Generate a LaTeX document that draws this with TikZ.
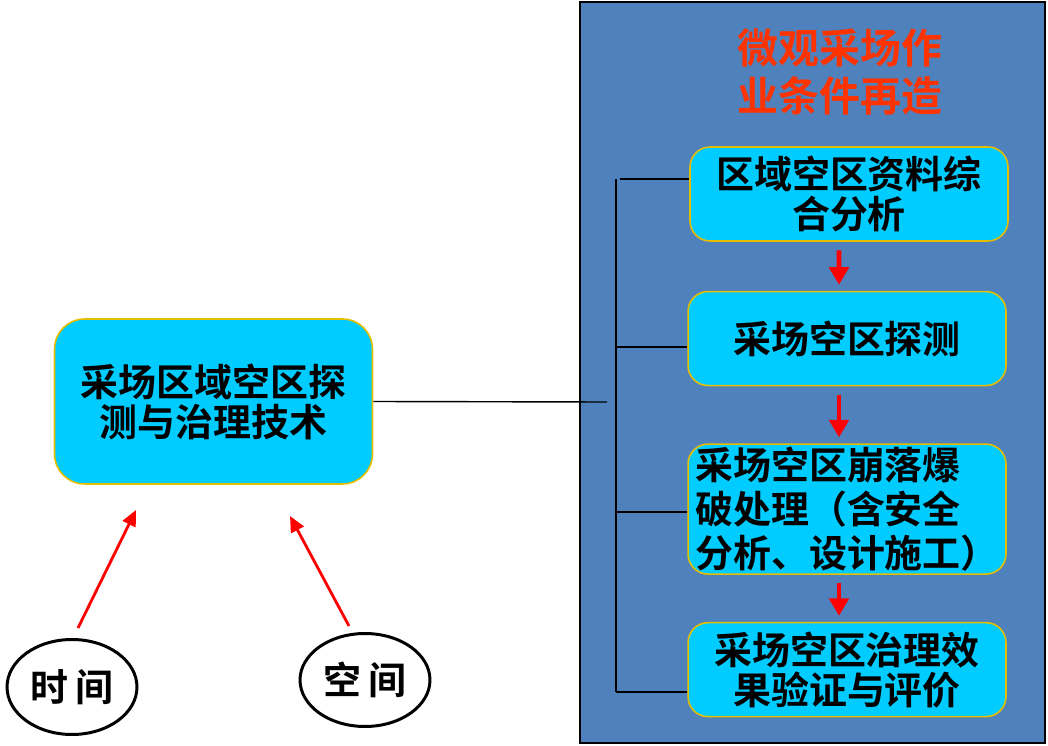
\documentclass[tikz,border=0pt]{standalone}
\usepackage{fontspec}
\newfontfamily\cjk{Noto Sans CJK SC}[BoldFont={Noto Sans CJK SC Bold}]
\usetikzlibrary{positioning,arrows.meta}
\definecolor{panelblue}{RGB}{79,129,189}
\definecolor{boxcyan}{RGB}{0,204,255}
\definecolor{boxgold}{RGB}{230,190,0}
\definecolor{titlered}{RGB}{255,51,0}
\tikzset{
  stagebox/.style={draw=boxgold, line width=0.9pt, fill=boxcyan, rounded corners=0.4cm,
    minimum width=6.36cm, minimum height=1.88cm, inner sep=0pt, align=center,
    font=\cjk\bfseries\fontsize{21.6}{22.8}\selectfont},
  factor/.style={ellipse, draw, line width=1.7pt, minimum width=2.6cm, minimum height=1.9cm,
    inner sep=0pt, font=\cjk\bfseries\fontsize{21.6}{22.8}\selectfont},
  flowarrow/.style={red, line width=2.6pt, -{Triangle[width=11pt,length=10pt]},
    shorten <=0.17cm, shorten >=0.12cm},
  upflow/.style={red, line width=1.6pt, -{Triangle[width=8pt,length=9pt]}},
}
\usetikzlibrary{shapes.geometric}
\begin{document}
\begin{tikzpicture}[x=0.02cm,y=-0.02cm]
        \useasboundingbox (0,0) rectangle (1048,746);
        % right panel
        \draw[fill=panelblue, line width=1.1pt] (580,2) rectangle (1045,743);
        \node[text=titlered, align=center, font=\cjk\bfseries\fontsize{23.3}{26.8}\selectfont] (title) at (840,72) {微观采场作\\业条件再造};
        % stages
        \node[stagebox] (area) at (849,194) {区域空区资料综\\合分析};
        \node[stagebox, below=0.98cm of area.south, anchor=north, xshift=-0.04cm] (detect) {采场空区探测};
        \node[stagebox, minimum height=2.6cm, align=left, font=\cjk\bfseries\fontsize{21.6}{25}\selectfont, below=1.14cm of detect.south, anchor=north] (blast) {采场空区崩落爆\\破处理（含安全\\分析、设计施工）};
        \node[stagebox, below=0.94cm of blast.south, anchor=north] (verify) {采场空区治理效\\果验证与评价};
        \draw[flowarrow] ([xshift=-0.2cm]area.south) -- ([xshift=-0.16cm]detect.north);
        \draw[flowarrow] ([xshift=-0.16cm]detect.south) -- ([xshift=-0.16cm]blast.north);
        \draw[flowarrow] ([xshift=-0.16cm]blast.south) -- ([xshift=-0.16cm]verify.north);
        % bracket
        \coordinate (tick1) at (616,179);
        \coordinate (tick2) at (616,347);
        \coordinate (tick3) at (616,512);
        \coordinate (tick4) at (616,692);
        \coordinate (hub) at (607,402);
        \draw[line width=1.1pt] (tick1) -- (tick4);
        \draw[line width=1.1pt] ([xshift=0.08cm]tick1) -- (area.west |- tick1);
        \draw[line width=1.1pt] (tick2) -- (detect.west |- tick2);
        \draw[line width=1.1pt] (tick3) -- (blast.west |- tick3);
        \draw[line width=1.1pt] (tick4) -- (verify.west |- tick4);
        % left part
        \node[stagebox, minimum height=3.3cm, rounded corners=0.6cm] (tech) at (213.5,401.5) {采场区域空区探\\测与治理技术};
        \draw[line width=0.8pt] (tech.east) -- (hub);
        \node[factor] (time) at (72,687) {时\hspace{0.2em}间};
        \node[factor, minimum height=1.86cm] (space) at (365,680) {空\hspace{0.2em}间};
        \coordinate (timefoot) at (78,628);
        \coordinate (timetip) at (136,510);
        \coordinate (spacefoot) at (349,626);
        \coordinate (spacetip) at (290,516);
        \draw[upflow] (timefoot) -- (timetip);
        \draw[upflow] (spacefoot) -- (spacetip);
    \end{tikzpicture}
\end{document}
